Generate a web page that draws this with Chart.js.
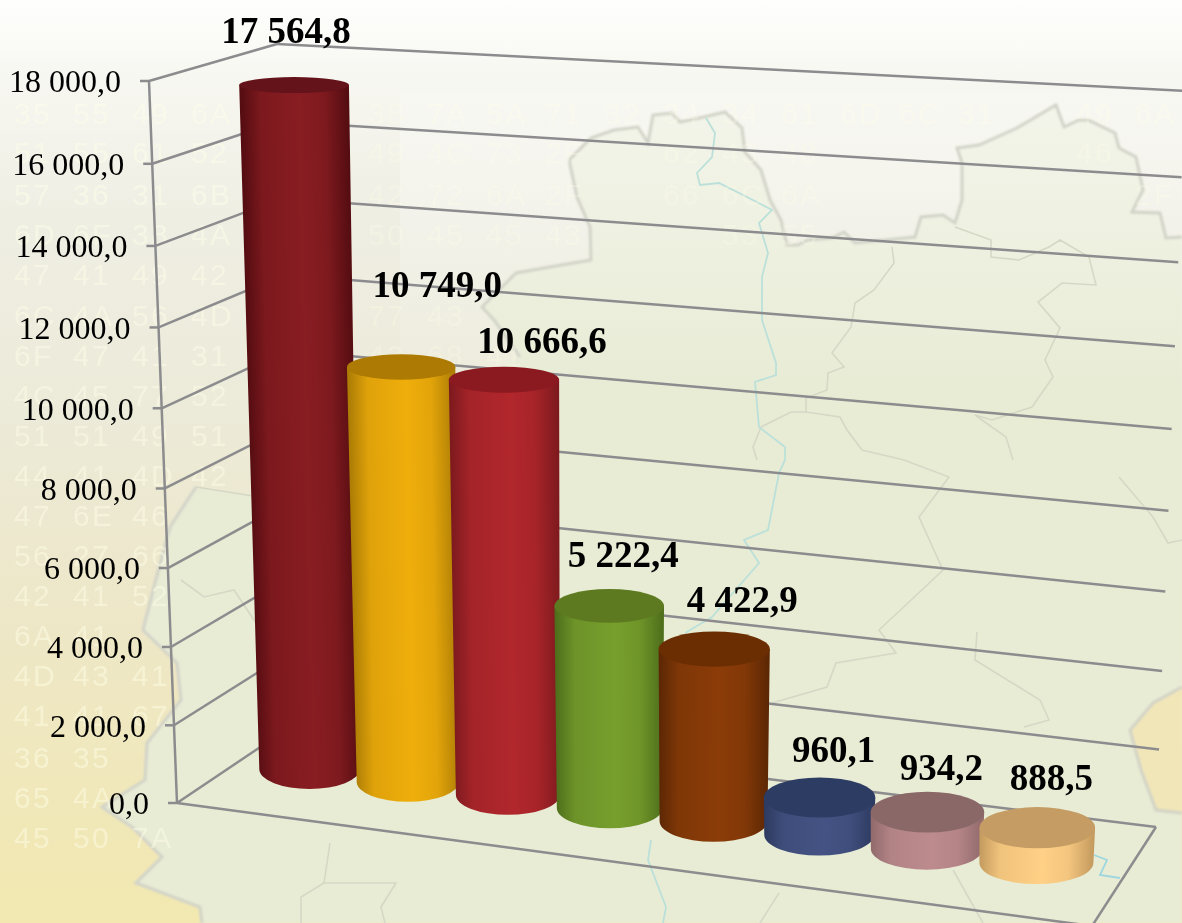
<!DOCTYPE html>
<html>
<head>
<meta charset="utf-8">
<style>
html, body { margin: 0; padding: 0; background: #fff; overflow: hidden; }
#stage { position: relative; width: 1182px; height: 923px; overflow: hidden;
  background: linear-gradient(180deg, #fefefd 0, #f7f7f1 80px, #efeee3 220px, #ecead8 420px, #eee7c6 640px, #f2e8b0 923px); }
#map { position: absolute; left: 0; top: 0; }
#g3 { position: absolute; left: 0; top: 0; }
</style>
</head>
<body>
<div id="stage">
<svg id="map" width="1182" height="923" viewBox="0 0 1182 923">
  <defs>
    <filter id="soft"><feGaussianBlur stdDeviation="1.2"/></filter>
    <linearGradient id="fade" x1="0" y1="0" x2="0" y2="1">
      <stop offset="0" stop-color="#f8f8f3" stop-opacity="0.75"/>
      <stop offset="1" stop-color="#f8f8f3" stop-opacity="0"/>
    </linearGradient>
  </defs>
  <polygon fill="#e8ecd5" filter="url(#soft)" points="569,160 591,138 614,130 638,127 648,143 653,115 672,113 680,122 704,117 725,112 742,128 745,152 761,170 770,200 781,220 787,245 798,245 808,240 832,238 844,232 855,243 885,240 915,237 921,217 943,215 955,223 962,200 962,163 957,148 979,145 1017,128 1056,105 1064,127 1079,120 1088,120 1115,133 1119,148 1136,157 1143,190 1132,212 1160,213 1166,238 1182,237 1182,687 1153,703 1130,730 1141,770 1156,810 1182,813 1182,923 202,923 200,907 136,883 162,857 132,827 102,807 145,780 147,743 181,700 177,663 143,630 155,583 170,527 196,487 260,497 350,450 520,357 494,320 482,307 516,273 550,267 591,260 590,227 577,197"/>
  <polygon fill="#f1e6b8" filter="url(#soft)" points="1182,687 1153,703 1130,730 1141,770 1156,810 1182,813"/>
  <rect x="400" y="90" width="782" height="300" fill="url(#fade)"/>
  <g fill="none" stroke="#d2d3c8" stroke-width="3" filter="url(#soft)">
    <polyline points="569,160 591,138 614,130 638,127 648,143 653,115 672,113 680,122 704,117 725,112 742,128 745,152 761,170 770,200 781,220 787,245 798,245 808,240 832,238 844,232 855,243 885,240 915,237 921,217 943,215 955,223 962,200 962,163 957,148 979,145 1017,128 1056,105 1064,127 1079,120 1088,120 1115,133 1119,148 1136,157 1143,190 1132,212 1160,213 1166,238 1182,237"/>
    <polyline points="569,160 577,197 590,227 591,260 550,267 516,273 482,307 494,320 520,357"/>
    <polyline points="196,487 170,527 155,583 143,630 177,663 181,700 147,743 145,780 102,807 132,827 162,857 136,883 200,907 202,923"/>
    <polyline points="1182,687 1153,703 1130,730 1141,770 1156,810 1182,813"/>
  </g>
  <g fill="none" stroke="#d6d8c6" stroke-width="1.6">
    <polyline points="892,247 894,263 874,290 855,303 851,327 832,353 844,367 828,373 827,390 806,398 806,412 791,412 761,427 753,447 757,460"/>
    <polyline points="806,412 840,417 847,430 862,450 904,460 949,477 919,517 943,570 893,617 879,630 896,653 836,663 827,687 772,703"/>
    <polyline points="955,227 991,240 991,257 1019,260 1049,247 1060,240 1089,257 1096,285 1062,283 1038,302 1060,328 1045,360 1053,377 1032,407 992,420 975,415 1006,437 1013,460"/>
    <polyline points="977,632 975,660 1040,700 1049,720 1024,727"/>
    <polyline points="1119,477 1153,517 1168,543 1182,540"/>
    <polyline points="330,843 324,883 301,897 301,923"/>
    <polyline points="324,883 396,883 381,907 385,923"/>
    <polyline points="779,893 760,923"/>
    <polyline points="953,870 983,923"/>
    <polyline points="196,487 234,493 260,497"/>
    <polyline points="181,580 204,597 234,590 256,623"/>
  </g>
  <polyline fill="none" stroke="#bbe0da" stroke-width="1.8" points="706,118 715,133 712,157 697,173 700,185 719,183 749,198 772,210 759,223 768,253 762,277 762,320 776,363 776,375 755,382 759,427 785,447 785,460 779,473 768,530 744,540 759,563 712,617 685,633"/>
  <polyline fill="none" stroke="#bbe0da" stroke-width="1.8" points="651,840 648,860 666,907 663,923"/>
  <polyline fill="none" stroke="#9fd6df" stroke-width="1.8" points="1094,855 1107,860 1100,875 1120,878"/>
</svg>
<canvas id="g3" width="1182" height="923"></canvas>
</div>

<script src="https://cdn.jsdelivr.net/npm/chart.js@4/dist/chart.umd.js"></script>
<script>
// nilai grafik
var categories = ['A', 'B', 'C', 'D', 'E', 'F', 'G', 'H'];
var values = [17564.8, 10749.0, 10666.6, 5222.4, 4422.9, 960.1, 934.2, 888.5];
var yTicksMax = 18000;
var yTicksStep = 2000;

var bodyColors = ['#881d22', '#efae0b', '#b1272c', '#779f2d', '#8b3c08', '#445383', '#bd8b8d', '#ffd086'];
var edgeColors = ['#560d11', '#ad7d05', '#7e1a1e', '#4e6e1b', '#5c2704', '#2d3a60', '#916a6c', '#c39a5e'];
var topColors = ['#65131a', '#ad7b03', '#8a1a1f', '#5d7a20', '#6b2e02', '#2d3c63', '#8a6868', '#c49c64'];

// label geser dari pusat tutup silinder
var labelShift = [[-8, -55], [36, -83], [38, -39], [14, -51], [28, -50], [14, -48], [14, -45], [14, -50]];

// baris hex samar di latar
var hexRows = [
  [116, '35 55 49 6A __ __ 38 7A 5A 71 32 34 34 61 6D 6C 31 __ 49 6A'],
  [155, '51 55 61 52 __ __ 49 4C 73 2F __ 62 43 48 __ __ __ __ 46'],
  [197, '57 36 31 6B __ __ 42 72 6A 2F __ 66 6C 6A __ __ __ __ __ 2F'],
  [237, '6D 6F 38 4A __ __ 50 45 45 43 __ __ 53 55'],
  [277, '47 41 49 42'],
  [318, '6C 4A 56 4D __ __ 77 43'],
  [358, '6F 47 41 31 __ __ 43 68 41'],
  [398, '4C 45 77 52'],
  [438, '51 51 49 51'],
  [478, '44 41 4D 42'],
  [518, '47 6E 46'],
  [558, '56 27 66'],
  [598, '42 41 52'],
  [638, '6A 41'],
  [678, '4D 43 41'],
  [718, '41 41 67'],
  [760, '36 35'],
  [800, '65 4A'],
  [840, '45 50 7A']
];

// peta (u,v) bidang satuan ke layar, dari 4 sudut
function quadMap(p0, p1, p2, p3) {
  var dx1 = p1[0] - p2[0], dx2 = p3[0] - p2[0], sx = p0[0] - p1[0] + p2[0] - p3[0];
  var dy1 = p1[1] - p2[1], dy2 = p3[1] - p2[1], sy = p0[1] - p1[1] + p2[1] - p3[1];
  var den = dx1 * dy2 - dx2 * dy1;
  var g = (sx * dy2 - dx2 * sy) / den, h = (dx1 * sy - sx * dy1) / den;
  var a = p1[0] - p0[0] + g * p1[0], b = p3[0] - p0[0] + h * p3[0];
  var d = p1[1] - p0[1] + g * p1[1], e = p3[1] - p0[1] + h * p3[1];
  return function(u, v) {
    var w = g * u + h * v + 1;
    return [(a * u + b * v + p0[0]) / w, (d * u + e * v + p0[1]) / w];
  };
}

var frontLow = [177, 803], frontHigh = [149, 81];
var backLow = [299, 721], backHigh = [277, 44];
var rightLow = [1156, 827], rightHigh = [1185, 91];
var floorFrontRight = [1092, 926];

var backWall = quadMap(backLow, rightLow, rightHigh, backHigh);
var sideWall = quadMap(frontLow, backLow, backHigh, frontHigh);
var barPlane = quadMap([261, 763], [1092, 870], [1114, 121], [243, 64]);

function fmt(v) {
  return v.toFixed(1).replace('.', ',').replace(/\B(?=(\d{3})+(?!\d))/g, ' ');
}

function mix(c1, c2, k) {
  var out = '#';
  for (var i = 1; i < 7; i += 2) {
    var a = parseInt(c1.substr(i, 2), 16), b = parseInt(c2.substr(i, 2), 16);
    var c = Math.round(a + (b - a) * k).toString(16);
    out += (c.length < 2 ? '0' : '') + c;
  }
  return out;
}

function segment(ctx, a, b) {
  ctx.beginPath();
  ctx.moveTo(a[0], a[1]);
  ctx.lineTo(b[0], b[1]);
  ctx.stroke();
}

function drawCylinder(ctx, low, high, rxLow, rxHigh, body, edge, top) {
  var ryLow = 8 + (low[1] - 85) * 0.017;
  var ryHigh = 8 + (high[1] - 85) * 0.017;
  var mx = (low[0] + high[0]) / 2, my = (low[1] + high[1]) / 2, r = (rxLow + rxHigh) / 2;
  var lean = (high[0] - low[0]) / (low[1] - high[1]);
  var grad = ctx.createLinearGradient(mx - r, my - r * lean, mx + r, my + r * lean);
  grad.addColorStop(0, edge);
  grad.addColorStop(0.18, mix(edge, body, 0.75));
  grad.addColorStop(0.55, body);
  grad.addColorStop(0.78, mix(edge, body, 0.8));
  grad.addColorStop(1, edge);

  ctx.beginPath();
  ctx.moveTo(high[0] - rxHigh, high[1]);
  ctx.lineTo(low[0] - rxLow, low[1]);
  ctx.ellipse(low[0], low[1], rxLow, ryLow, 0, Math.PI, 0, true);
  ctx.lineTo(high[0] + rxHigh, high[1]);
  ctx.closePath();
  ctx.fillStyle = grad;
  ctx.fill();

  ctx.beginPath();
  ctx.ellipse(high[0], high[1], rxHigh, ryHigh, 0, 0, Math.PI * 2);
  ctx.fillStyle = top;
  ctx.fill();
}

var scene3d = {
  id: 'scene3d',
  beforeDatasetsDraw: function(chart) {
    var ctx = chart.ctx, area = chart.chartArea;
    var yScale = chart.scales.y;
    var meta = chart.getDatasetMeta(0);
    var unitU = function(px) { return (px - area.left) / (area.right - area.left); };
    var unitT = function(val) { return (area.bottom - yScale.getPixelForValue(val)) / (area.bottom - area.top); };

    ctx.save();
    // hex samar
    ctx.font = '30px "Liberation Sans"';
    ctx.textAlign = 'left';
    ctx.textBaseline = 'middle';
    hexRows.forEach(function(row) {
      row[1].split(' ').forEach(function(tok, k) {
        if (tok !== '__') {
          ctx.fillStyle = k < 4 ? 'rgba(254,255,232,0.45)' : 'rgba(254,255,232,0.25)';
          ctx.fillText(tok.charAt(0), 14 + k * 59, row[0]);
          ctx.fillText(tok.charAt(1), 33 + k * 59, row[0]);
        }
      });
    });

    // grid dinding
    ctx.strokeStyle = '#8c8c8e';
    ctx.lineWidth = 2.5;
    ctx.lineCap = 'butt';
    yScale.ticks.forEach(function(tick) {
      var t = unitT(tick.value);
      var f = sideWall(0, t), b = sideWall(1, t), r = backWall(1, t);
      segment(ctx, [f[0] - 9, f[1]], f);
      segment(ctx, f, b);
      segment(ctx, b, r);
    });
    segment(ctx, frontLow, frontHigh);
    segment(ctx, frontLow, floorFrontRight);
    segment(ctx, rightLow, floorFrontRight);

    // label sumbu y
    ctx.font = '32px "Liberation Serif"';
    ctx.fillStyle = '#000';
    ctx.textAlign = 'right';
    yScale.ticks.forEach(function(tick) {
      var f = sideWall(0, unitT(tick.value));
      ctx.fillText(fmt(tick.value), f[0] - 28, f[1] + 3);
    });

    // silinder
    var half = 0.5 / categories.length;
    meta.data.forEach(function(bar, i) {
      var u = unitU(bar.x);
      var t = unitT(values[i]);
      var low = barPlane(u, 0), high = barPlane(u, t);
      var rxLow = (barPlane(u + half, 0)[0] - barPlane(u - half, 0)[0]) / 2 * 1.03;
      var rxHigh = (barPlane(u + half, t)[0] - barPlane(u - half, t)[0]) / 2 * (1.04 + t * 0.04);
      drawCylinder(ctx, low, high, rxLow, rxHigh, bar.options.backgroundColor, edgeColors[i], topColors[i]);
    });

    // label nilai
    ctx.font = 'bold 37px "Liberation Serif"';
    ctx.fillStyle = '#000';
    ctx.textAlign = 'center';
    meta.data.forEach(function(bar, i) {
      var high = barPlane(unitU(bar.x), unitT(values[i]));
      ctx.fillText(fmt(values[i]), high[0] + labelShift[i][0], high[1] + labelShift[i][1] + 3);
    });
    ctx.restore();
    return false;
  }
};

var myChart = new Chart(document.getElementById('g3'), {
  type: 'bar',
  data: {
    labels: categories,
    datasets: [{ label: 'Nilai', data: values, backgroundColor: bodyColors }]
  },
  options: {
    responsive: false,
    animation: false,
    layout: { padding: 0 },
    plugins: { legend: { display: false }, tooltip: { enabled: false } },
    scales: {
      x: { display: false },
      y: { display: false, min: 0, max: yTicksMax, ticks: { stepSize: yTicksStep } }
    }
  },
  plugins: [scene3d]
});
</script>
</body>
</html>
